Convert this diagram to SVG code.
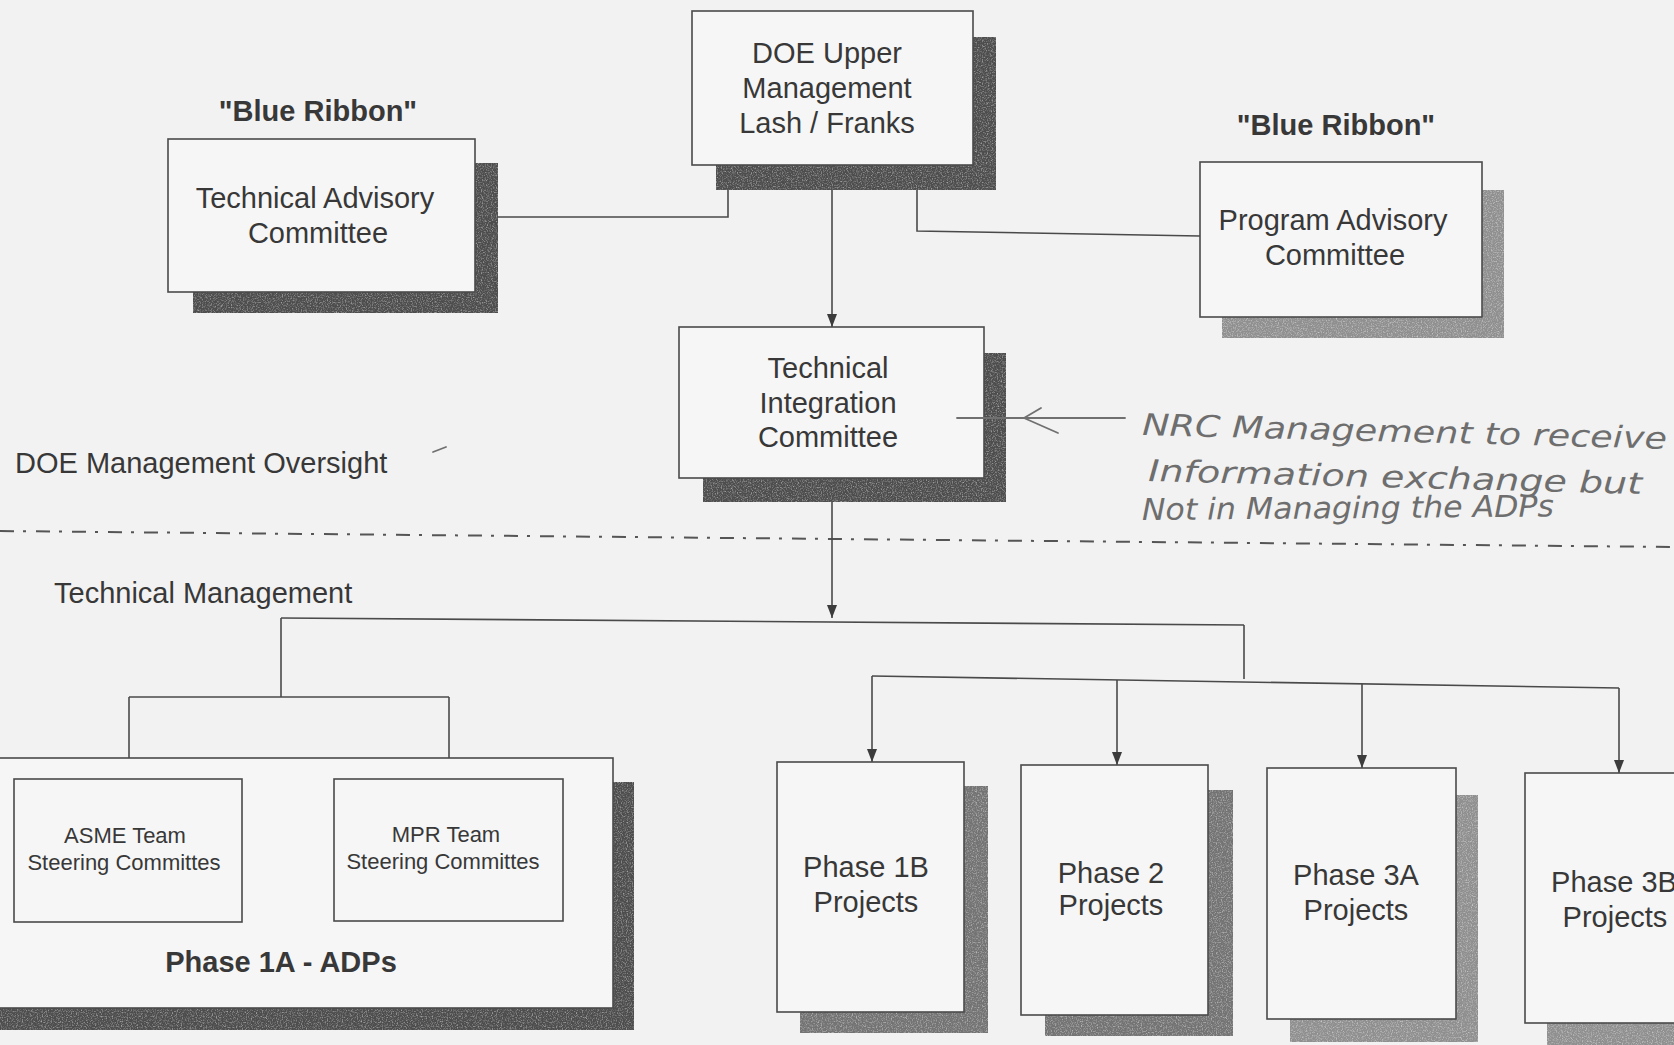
<svg xmlns="http://www.w3.org/2000/svg" width="1674" height="1045" viewBox="0 0 1674 1045">
<defs>
<style>
.box{fill:#f6f6f6;stroke:#4a4a4a;stroke-width:1.6}
.sh-dark{fill:#4d4d4d;filter:url(#grain)}
.sh-mid{fill:#737373;filter:url(#grain)}
.sh-light{fill:#8f8f8f;filter:url(#grain)}
.t{font-family:"Liberation Sans",Arial,sans-serif;font-size:29px;fill:#383838;text-anchor:middle}
.tb{font-family:"Liberation Sans",Arial,sans-serif;font-size:29px;font-weight:bold;fill:#383838;text-anchor:middle}
.ts{font-family:"Liberation Sans",Arial,sans-serif;font-size:22px;fill:#383838;text-anchor:middle}
.tl{font-family:"Liberation Sans",Arial,sans-serif;font-size:29px;fill:#383838}
.hw{font-family:"DejaVu Sans",sans-serif;font-size:30px;font-weight:200;font-style:italic;fill:#6e6e6e}
.c{fill:none;stroke:#4a4a4a;stroke-width:1.6}
.ca{fill:none;stroke:#4a4a4a;stroke-width:1.6;marker-end:url(#arr)}
.hwl{fill:none;stroke:#707070;stroke-width:1.8;stroke-linecap:round;stroke-linejoin:round}
</style>
<filter id="grain" x="0%" y="0%" width="100%" height="100%" color-interpolation-filters="sRGB">
<feTurbulence type="fractalNoise" baseFrequency="0.8" numOctaves="2" seed="4" result="noise"/>
<feColorMatrix in="noise" type="matrix" values="0 0 0 0 1  0 0 0 0 1  0 0 0 0 1  1.2 0 0 0 -0.55" result="spots"/>
<feComposite in="spots" in2="SourceGraphic" operator="in" result="spotsIn"/>
<feMerge><feMergeNode in="SourceGraphic"/><feMergeNode in="spotsIn"/></feMerge>
</filter>
<marker id="arr" viewBox="0 0 13 10" refX="13" refY="5" markerWidth="13" markerHeight="10" markerUnits="userSpaceOnUse" orient="auto">
<path d="M0,0 L13,5 L0,10 z" fill="#3c3c3c"/>
</marker>
<marker id="arrs" viewBox="0 0 8 7" refX="8" refY="3.5" markerWidth="8" markerHeight="7" markerUnits="userSpaceOnUse" orient="auto">
<path d="M0,0 L8,3.5 L0,7 z" fill="#3c3c3c"/>
</marker>
</defs>
<rect x="0" y="0" width="1674" height="1045" fill="#f2f2f2"/>

<!-- separator -->
<g id="separator">
<line x1="0" y1="531" x2="1674" y2="547" stroke="#555" stroke-width="2" stroke-dasharray="14 9 3 10"/>
</g>

<!-- section labels -->
<g id="labels">
<text class="tl" x="15" y="473">DOE Management Oversight</text>
<text class="tl" x="54" y="603">Technical Management</text>
<path d="M433,452 L446,447" class="hwl" stroke-width="1.5"/>
</g>

<g id="connectors">
<line class="ca" x1="832" y1="166" x2="832" y2="327"/>
<polyline class="c" points="498,217 728,217 728,190"/>
<polyline class="c" points="1200,236 917,231 917,168" marker-end="url(#arrs)"/>
<line class="ca" x1="832" y1="479" x2="832" y2="618"/>
<line class="c" x1="281" y1="618" x2="1244" y2="625"/>
<polyline class="c" points="281,618 281,697"/>
<line class="c" x1="129" y1="697" x2="449" y2="697"/>
<line class="ca" x1="129" y1="697" x2="129" y2="779"/>
<line class="ca" x1="449" y1="697" x2="449" y2="779"/>
<line class="c" x1="1244" y1="625" x2="1244" y2="679"/>
<line class="c" x1="872" y1="676" x2="1619" y2="688"/>
<line class="ca" x1="872" y1="676" x2="872" y2="762"/>
<line class="ca" x1="1117" y1="680" x2="1117" y2="765"/>
<line class="ca" x1="1362" y1="684" x2="1362" y2="768"/>
<line class="ca" x1="1619" y1="688" x2="1619" y2="773"/>
</g>

<g id="doe-upper">
<rect class="sh-dark" x="716" y="37" width="280" height="153"/>
<rect class="box" x="692" y="11" width="281" height="154"/>
<text class="t" x="827" y="63">DOE Upper</text>
<text class="t" x="827" y="98">Management</text>
<text class="t" x="827" y="133">Lash / Franks</text>
</g>

<g id="tech-advisory">
<text class="tb" x="318" y="121">"Blue Ribbon"</text>
<rect class="sh-dark" x="193" y="163" width="305" height="150"/>
<rect class="box" x="168" y="139" width="307" height="153"/>
<text class="t" x="315" y="208">Technical Advisory</text>
<text class="t" x="318" y="243">Committee</text>
</g>

<g id="program-advisory">
<text class="tb" x="1336" y="135">"Blue Ribbon"</text>
<rect class="sh-light" x="1222" y="190" width="282" height="148"/>
<rect class="box" x="1200" y="162" width="282" height="155"/>
<text class="t" x="1333" y="230">Program Advisory</text>
<text class="t" x="1335" y="265">Committee</text>
</g>

<g id="tech-integration">
<rect class="sh-dark" x="703" y="353" width="303" height="149"/>
<rect class="box" x="679" y="327" width="305" height="151"/>
<text class="t" x="828" y="378">Technical</text>
<text class="t" x="828" y="413">Integration</text>
<text class="t" x="828" y="447">Committee</text>
</g>

<g id="nrc-note">
<line class="hwl" x1="957" y1="418" x2="1125" y2="418"/>
<polyline class="hwl" points="1041,408 1024,418 1058,433"/>
<text class="hw" x="1142" y="435" textLength="525" lengthAdjust="spacingAndGlyphs" transform="rotate(1.5 1142 435)">NRC Management to receive</text>
<text class="hw" x="1148" y="481" textLength="494" lengthAdjust="spacingAndGlyphs" transform="rotate(1.5 1148 481)">Information exchange but</text>
<text class="hw" x="1142" y="520" textLength="412" lengthAdjust="spacingAndGlyphs" transform="rotate(-0.5 1142 520)">Not in Managing the ADPs</text>
</g>

<g id="phase-1a">
<rect class="sh-dark" x="-10" y="782" width="644" height="248"/>
<rect class="box" x="-5" y="758" width="618" height="250"/>
<text class="tb" x="281" y="972">Phase 1A - ADPs</text>
</g>

<g id="asme-team">
<rect class="box" x="14" y="779" width="228" height="143"/>
<text class="ts" x="125" y="843">ASME Team</text>
<text class="ts" x="124" y="870">Steering Committes</text>
</g>

<g id="mpr-team">
<rect class="box" x="334" y="779" width="229" height="142"/>
<text class="ts" x="446" y="842">MPR Team</text>
<text class="ts" x="443" y="869">Steering Committes</text>
</g>

<g id="phase-1b">
<rect class="sh-mid" x="800" y="786" width="188" height="247"/>
<rect class="box" x="777" y="762" width="187" height="250"/>
<text class="t" x="866" y="877">Phase 1B</text>
<text class="t" x="866" y="912">Projects</text>
</g>

<g id="phase-2">
<rect class="sh-mid" x="1045" y="790" width="188" height="246"/>
<rect class="box" x="1021" y="765" width="187" height="250"/>
<text class="t" x="1111" y="883">Phase 2</text>
<text class="t" x="1111" y="915">Projects</text>
</g>

<g id="phase-3a">
<rect class="sh-light" x="1290" y="795" width="188" height="247"/>
<rect class="box" x="1267" y="768" width="189" height="251"/>
<text class="t" x="1356" y="885">Phase 3A</text>
<text class="t" x="1356" y="920">Projects</text>
</g>

<g id="phase-3b">
<rect class="sh-light" x="1547" y="800" width="160" height="250"/>
<rect class="box" x="1525" y="773" width="180" height="250"/>
<text class="t" x="1614" y="892">Phase 3B</text>
<text class="t" x="1615" y="927">Projects</text>
</g>
</svg>
